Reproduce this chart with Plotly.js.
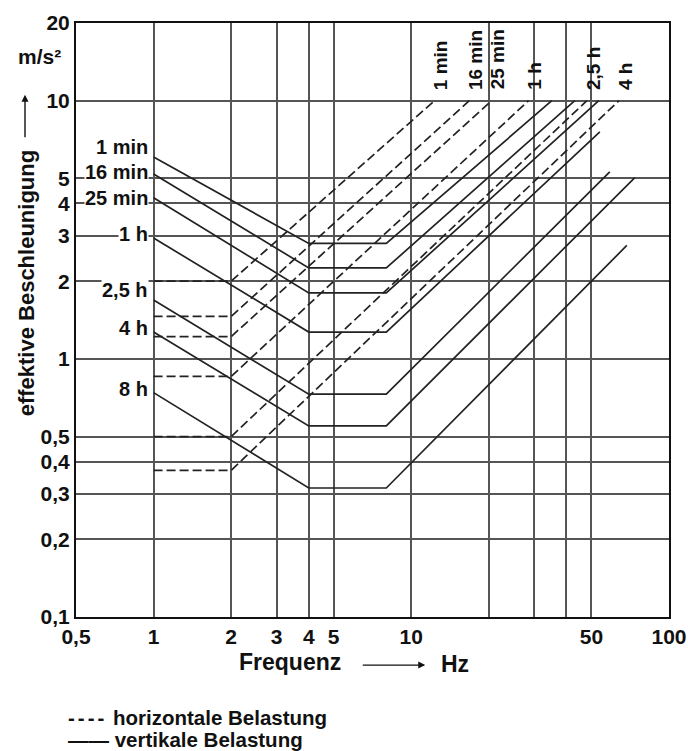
<!DOCTYPE html>
<html><head><meta charset="utf-8">
<script src="https://cdn.plot.ly/plotly-3.0.1.min.js"></script>
<style>html,body{margin:0;padding:0;background:#fff}</style>
</head><body><div id="chart" style="width:688px;height:751px"></div>
<script>
// ---- data ----
const vertLabels   = ['1 min','16 min','25 min','1 h','2,5 h','4 h','8 h'];
const vertBreakF   = [1, 4, 8];                 // Hz: start, knee, end of plateau
const vertStartA   = [6.05, 5.2, 4.21, 2.94, 1.69, 1.27, 0.74];  // m/s² at 1 Hz
const vertFlatA    = [2.8, 2.25, 1.8, 1.27, 0.73, 0.55, 0.316]; // m/s² at 4–8 Hz
const vertEndF     = [35.1, 43.1, 53.4, 53.9, 58.9, 73.7, 68.6];
const vertEndA     = [10, 10, 10, 7.58, 5.3, 5.04, 2.75];

const horizLabels  = ['1 min','16 min','25 min','1 h','2,5 h','4 h'];
const horizBreakF  = [1, 2];
const horizFlatA   = [2.0, 1.46, 1.22, 0.855, 0.5, 0.37];
const horizEndF    = [12.3, 16.8, 20.5, 28.5, 48.0, 63.9];
const horizEndA    = [10, 10, 10, 10, 10, 10];

const xTickVals = [0.5, 1, 2, 3, 4, 5, 10, 20, 30, 40, 50, 100];
const xTickText = ['0,5','1','2','3','4','5','10','','','','50','100'];
const yTickVals = [0.1, 0.2, 0.3, 0.4, 0.5, 1, 2, 3, 4, 5, 10, 20];
const yTickText = ['0,1','0,2','0,3','0,4','0,5','1','2','3','4','5','10','20'];

// ---- styling ----
const FONT = 'Liberation Sans, Arial, Helvetica, sans-serif';
const INK = '#222';
const DASH = '9px,4px';
const leftLabelShift = [10, 2, 0, 4, 10, 4, 4];   // px, label placement only

const traces = [];
horizLabels.forEach((lab, i) => {
  traces.push({
    type: 'scatter', mode: 'lines',
    x: [horizBreakF[0], horizBreakF[1], horizEndF[i]],
    y: [horizFlatA[i], horizFlatA[i], horizEndA[i]],
    line: {color: INK, width: 1.7, dash: DASH},
    name: 'horizontale Belastung ' + lab, showlegend: false, hoverinfo: 'skip'
  });
});
vertLabels.forEach((lab, i) => {
  traces.push({
    type: 'scatter', mode: 'lines',
    x: [vertBreakF[0], vertBreakF[1], vertBreakF[2], vertEndF[i]],
    y: [vertStartA[i], vertFlatA[i], vertFlatA[i], vertEndA[i]],
    line: {color: INK, width: 1.7},
    name: 'vertikale Belastung ' + lab, showlegend: false, hoverinfo: 'skip'
  });
});

const annotations = [];
// left labels (vertical load curves), at each curve start
vertLabels.forEach((lab, i) => {
  annotations.push({
    xref: 'x', yref: 'y', x: Math.log10(vertBreakF[0]), y: Math.log10(vertStartA[i]),
    text: lab, showarrow: false, xanchor: 'right', yanchor: 'middle',
    xshift: -5, yshift: leftLabelShift[i], bgcolor: '#fff', borderpad: 0,
    font: {family: FONT, size: 20, weight: 'bold', color: '#111'}
  });
});
// top labels (horizontal load curves), at each curve end
horizLabels.forEach((lab, i) => {
  annotations.push({
    xref: 'x', yref: 'y', x: Math.log10(horizEndF[i]), y: Math.log10(horizEndA[i]),
    text: lab, showarrow: false, textangle: -90, xanchor: 'center', yanchor: 'bottom',
    xshift: 6, yshift: 10, borderpad: 0,
    font: {family: FONT, size: 19, weight: 'bold', color: '#111'}
  });
});
// unit, axis titles, arrows and key
annotations.push(
  {xref: 'paper', yref: 'paper', x: -0.061, y: 0.943, text: 'm/s²', showarrow: false,
   xanchor: 'center', yanchor: 'middle', font: {family: FONT, size: 21, weight: 'bold', color: '#111'}},
  {xref: 'paper', yref: 'paper', x: -0.084, y: 0.562, text: 'effektive Beschleunigung', showarrow: false,
   textangle: -90, xanchor: 'center', yanchor: 'middle', font: {family: FONT, size: 22, weight: 'bold', color: '#111'}},
  {xref: 'paper', yref: 'paper', x: -0.086, y: 0.879, text: '', showarrow: true, ax: 0, ay: 44,
   arrowhead: 2, arrowsize: 1, arrowwidth: 1.4, arrowcolor: '#111'},
  {xref: 'paper', yref: 'paper', x: 0.361, y: -0.076, text: 'Frequenz', showarrow: false,
   xanchor: 'center', yanchor: 'middle', font: {family: FONT, size: 23, weight: 'bold', color: '#111'}},
  {xref: 'paper', yref: 'paper', x: 0.639, y: -0.079, text: 'Hz', showarrow: false,
   xanchor: 'center', yanchor: 'middle', font: {family: FONT, size: 23, weight: 'bold', color: '#111'}},
  {xref: 'paper', yref: 'paper', x: 0.589, y: -0.081, text: '', showarrow: true, ax: -64, ay: 0,
   arrowhead: 2, arrowsize: 1, arrowwidth: 1.4, arrowcolor: '#111'},
  {xref: 'paper', yref: 'paper', x: -0.017, y: -0.170, showarrow: false, xanchor: 'left', yanchor: 'middle',
   text: "<span style='letter-spacing:3px'>----</span> horizontale Belastung",
   font: {family: FONT, size: 20.5, weight: 'bold', color: '#111'}},
  {xref: 'paper', yref: 'paper', x: -0.017, y: -0.207, showarrow: false, xanchor: 'left', yanchor: 'middle',
   text: '—— vertikale Belastung',
   font: {family: FONT, size: 20.5, weight: 'bold', color: '#111'}}
);

const axisCommon = {
  type: 'log', showgrid: true, gridcolor: '#555', gridwidth: 2,
  showline: true, mirror: true, linecolor: '#111', linewidth: 2,
  ticks: '', zeroline: false, fixedrange: true, tickmode: 'array',
  tickfont: {family: FONT, size: 21, weight: 'bold', color: '#111'}
};

const layout = {
  width: 688, height: 751,
  margin: {l: 76, r: 19, t: 23, b: 134},
  paper_bgcolor: '#fff', plot_bgcolor: '#fff',
  showlegend: false,
  xaxis: Object.assign({}, axisCommon, {range: [Math.log10(0.5), 2], tickvals: xTickVals, ticktext: xTickText}),
  yaxis: Object.assign({}, axisCommon, {range: [-1, Math.log10(20)], tickvals: yTickVals, ticktext: yTickText}),
  annotations: annotations
};

Plotly.newPlot('chart', traces, layout, {displayModeBar: false, staticPlot: true});
</script>
</body></html>
